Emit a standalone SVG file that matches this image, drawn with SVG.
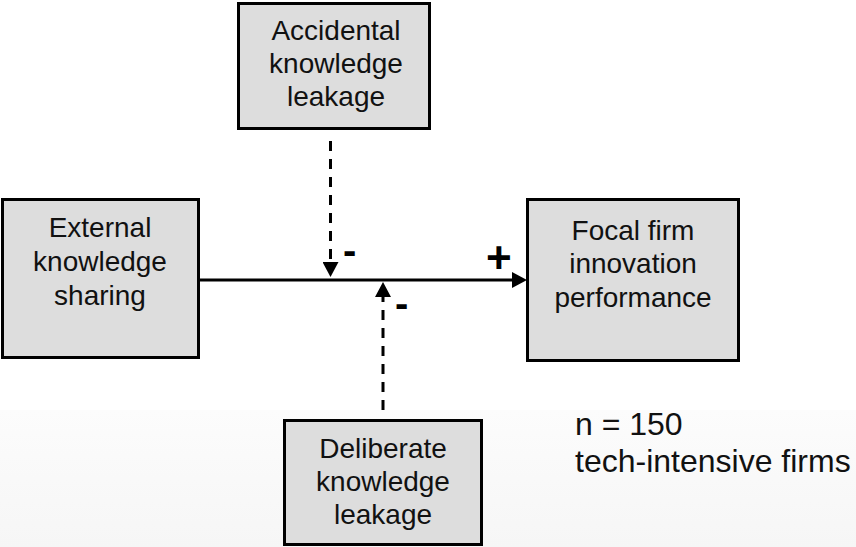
<svg xmlns="http://www.w3.org/2000/svg" width="856" height="547" viewBox="0 0 856 547">
  <defs>
    <linearGradient id="bg" x1="0" y1="0" x2="0" y2="1">
      <stop offset="0" stop-color="#fcfcfc"/>
      <stop offset="1" stop-color="#f6f6f6"/>
    </linearGradient>
    <marker id="arrow" markerUnits="userSpaceOnUse" markerWidth="16" markerHeight="16" refX="0" refY="8" orient="auto" viewBox="0 0 16 16">
      <path d="M0,0 L15,8 L0,16 z" fill="#000"/>
    </marker>
    <style>
      .box { fill: #dddddd; stroke: #000; stroke-width: 3; }
      .lbl { font-family: "Liberation Sans", Arial, sans-serif; font-size: 28px; fill: #111; text-anchor: middle; }
      .note { font-family: "Liberation Sans", Arial, sans-serif; font-size: 32px; fill: #111; }
      .sign { font-family: "Liberation Sans", Arial, sans-serif; font-size: 40px; font-weight: bold; fill: #000; }
      .plus { font-size: 44px; }
      .solid { stroke: #000; stroke-width: 3; fill: none; }
      .dash { stroke: #000; stroke-width: 3; fill: none; stroke-dasharray: 10 8; }
    </style>
  </defs>
  <rect x="0" y="0" width="856" height="547" fill="#ffffff"/>
  <rect x="0" y="410" width="856" height="137" fill="url(#bg)"/>

  <g id="connectors">
    <line class="solid" x1="198" y1="280" x2="512" y2="280" marker-end="url(#arrow)"/>
    <line class="dash" x1="330.5" y1="141" x2="330.5" y2="262" marker-end="url(#arrow)"/>
    <line class="dash" x1="383" y1="410" x2="383" y2="297" marker-end="url(#arrow)"/>
    <text class="sign" x="343" y="264">-</text>
    <text class="sign" x="395" y="317">-</text>
    <text class="sign plus" x="486" y="273">+</text>
  </g>

  <g id="accidental">
    <rect class="box" x="238.5" y="3.5" width="191" height="125"/>
    <text class="lbl" x="336" y="40">Accidental</text>
    <text class="lbl" x="336" y="73">knowledge</text>
    <text class="lbl" x="336" y="106">leakage</text>
  </g>

  <g id="external">
    <rect class="box" x="2.5" y="199.5" width="196" height="158"/>
    <text class="lbl" x="100" y="237">External</text>
    <text class="lbl" x="100" y="271">knowledge</text>
    <text class="lbl" x="100" y="305">sharing</text>
  </g>

  <g id="focal">
    <rect class="box" x="527.5" y="199.5" width="211" height="161"/>
    <text class="lbl" x="633" y="240">Focal firm</text>
    <text class="lbl" x="633" y="273">innovation</text>
    <text class="lbl" x="633" y="307">performance</text>
  </g>

  <g id="deliberate">
    <rect class="box" x="284.5" y="420.5" width="197" height="124"/>
    <text class="lbl" x="383" y="458">Deliberate</text>
    <text class="lbl" x="383" y="491">knowledge</text>
    <text class="lbl" x="383" y="524">leakage</text>
  </g>

  <g id="note">
    <text class="note" x="575" y="435">n = 150</text>
    <text class="note" x="575" y="472">tech-intensive firms</text>
  </g>
</svg>
